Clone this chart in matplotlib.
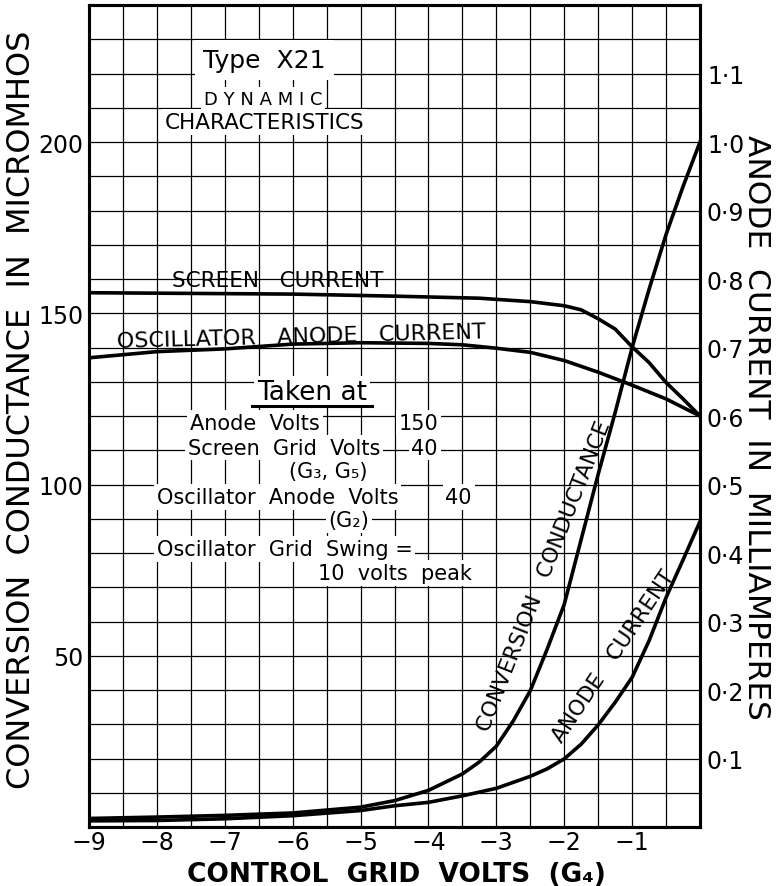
import numpy as np
import matplotlib.pyplot as plt

# ==========================================
# data
# ==========================================
# control grid volts (G4) / conversion conductance, micromhos (left axis)
cond_v = [-9, -8, -7, -6, -5, -4.5, -4, -3.5, -3.25, -3, -2.75, -2.5, -2.25, -2,
          -1.75, -1.5, -1.25, -1, -0.75, -0.5, -0.25, 0]
conv_cond = [2.5, 2.9, 3.4, 4.1, 5.8, 7.7, 10.7, 15.5, 19, 23.6, 31, 39.8, 52, 65,
             84, 103, 121, 140, 157, 173, 187, 200]

# anode current, mA (right axis)
anode_v = [-9, -8, -7, -6, -5, -4.5, -4, -3.5, -3, -2.5, -2.25, -2, -1.75, -1.5,
           -1.25, -1, -0.75, -0.5, -0.25, 0]
anode_ma = [0.009, 0.0095, 0.012, 0.0165, 0.024, 0.031, 0.036, 0.0455, 0.0565, 0.074,
            0.085, 0.0995, 0.121, 0.149, 0.182, 0.2185, 0.272, 0.335, 0.39, 0.446]

# screen current, mA
screen_v = [-9, -6, -4.5, -3.25, -2.5, -2, -1.75, -1.5, -1.25, -1, -0.75, -0.5, -0.25, 0]
screen_ma = [0.78, 0.778, 0.775, 0.772, 0.767, 0.761, 0.755, 0.742, 0.727, 0.701,
             0.678, 0.649, 0.625, 0.60]

# oscillator anode current, mA
osc_v = [-9, -8, -7, -6, -5, -4, -3.5, -3, -2.5, -2, -1.5, -1, -0.5, 0]
osc_ma = [0.685, 0.694, 0.698, 0.705, 0.707, 0.706, 0.704, 0.699, 0.693, 0.681,
          0.664, 0.645, 0.625, 0.60]

x_ticks = [-9, -8, -7, -6, -5, -4, -3, -2, -1]
x_labels = ['\u22129', '\u22128', '\u22127', '\u22126', '\u22125', '\u22124', '\u22123', '\u22122', '\u22121']
left_ticks = [50, 100, 150, 200]
right_ticks = [0.1, 0.2, 0.3, 0.4, 0.5, 0.6, 0.7, 0.8, 0.9, 1.0, 1.1]
right_labels = ['0\u00b71', '0\u00b72', '0\u00b73', '0\u00b74', '0\u00b75', '0\u00b76',
                '0\u00b77', '0\u00b78', '0\u00b79', '1\u00b70', '1\u00b71']

plt.rcParams['font.family'] = ['DejaVu Sans']

fig = plt.figure(figsize=(7.83, 8.87), dpi=100)
ax = fig.add_axes([0.1137, 0.0665, 0.7803, 0.9267])
ax.set_xlim(-9, 0)
ax.set_ylim(0, 240)

# grid paper
for gx in np.arange(-8.5, 0, 0.5):
    ax.axvline(gx, color='black', lw=0.9, zorder=1)
for gy in np.arange(10, 240, 10):
    ax.axhline(gy, color='black', lw=0.9, zorder=1)
for s in ax.spines.values():
    s.set_linewidth(2.2)

ax.set_xticks(x_ticks)
ax.set_xticklabels(x_labels, fontsize=17)
ax.set_yticks(left_ticks)
ax.set_yticklabels([str(t) for t in left_ticks], fontsize=17)
ax.tick_params(length=0, pad=4)
ax.tick_params(axis='x', pad=2)

ax2 = ax.twinx()
ax2.set_ylim(0, 1.2)
ax2.set_yticks(right_ticks)
ax2.set_yticklabels(right_labels, fontsize=17)
ax2.tick_params(length=0, pad=5)
for s in ax2.spines.values():
    s.set_linewidth(2.2)

# curves
ax.plot(cond_v, conv_cond, color='black', lw=2.6, zorder=5, solid_joinstyle='round')
ax2.plot(anode_v, anode_ma, color='black', lw=2.6, zorder=5, solid_joinstyle='round')
ax2.plot(screen_v, screen_ma, color='black', lw=2.6, zorder=5, solid_joinstyle='round')
ax2.plot(osc_v, osc_ma, color='black', lw=2.6, zorder=5, solid_joinstyle='round')

# annotations (white patches where the grid is blanked out)
wb = dict(facecolor='white', edgecolor='none', pad=2)
ax2.text(-6.42, 224, 'Type  X21', transform=ax.transData, fontsize=18,
         ha='center', va='center', bbox=dict(facecolor='white', edgecolor='none', pad=6), zorder=6)
ax2.text(-6.44, 212.6, 'D Y N A M I C', transform=ax.transData, fontsize=13,
         ha='center', va='center', bbox=wb, zorder=6)
ax2.text(-6.41, 205.8, 'CHARACTERISTICS', transform=ax.transData, fontsize=15.5,
         ha='center', va='center', bbox=wb, zorder=6)

ax2.text(-6.22, 159.7, 'SCREEN   CURRENT', transform=ax.transData, fontsize=15.5,
         ha='center', va='center', zorder=6)
ax2.text(-5.88, 143.3, 'OSCILLATOR   ANODE   CURRENT', transform=ax.transData, fontsize=16,
         ha='center', va='center', rotation=1.5, zorder=6)

ax2.text(-5.72, 127, 'Taken at', transform=ax.transData, fontsize=19,
         ha='center', va='center', bbox=wb, zorder=6)
ax2.plot([-6.6, -4.83], [122.8, 122.8], transform=ax.transData,
         color='black', lw=2.2, zorder=7)

fs = 15
lines = [
    (-7.51, 118, 'Anode  Volts', 'left'),
    (-3.86, 118, '150', 'right'),
    (-7.54, 110.8, 'Screen  Grid  Volts', 'left'),
    (-3.86, 110.8, '40', 'right'),
    (-5.47, 103.9, '(G\u2083, G\u2085)', 'center'),
    (-8.0, 96.3, 'Oscillator  Anode  Volts', 'left'),
    (-3.36, 96.3, '40', 'right'),
    (-5.17, 89.6, '(G\u2082)', 'center'),
    (-8.0, 81.2, 'Oscillator  Grid  Swing =', 'left'),
    (-3.36, 74.2, '10  volts  peak', 'right'),
]
for lx, ly, txt, ha in lines:
    ax2.text(lx, ly, txt, transform=ax.transData, fontsize=fs, ha=ha,
             va='center', bbox=wb, zorder=6)

ax2.text(-2.3, 73.5, 'CONVERSION   CONDUCTANCE', transform=ax.transData, fontsize=15.5,
         ha='center', va='center', rotation=68.5, rotation_mode='anchor', zorder=6)
ax2.text(-1.27, 50, 'ANODE   CURRENT', transform=ax.transData, fontsize=15.5,
         ha='center', va='center', rotation=56, rotation_mode='anchor', zorder=6)

# axis titles
fig.text(22 / 783, 1 - 410 / 887, 'CONVERSION  CONDUCTANCE  IN  MICROMHOS',
         rotation=90, fontsize=23, ha='center', va='center')
fig.text(757 / 783, 1 - 427 / 887, 'ANODE  CURRENT  IN  MILLIAMPERES',
         rotation=-90, fontsize=22.5, ha='center', va='center')
fig.text(396 / 783, 1 - 875 / 887, 'CONTROL  GRID  VOLTS  (G\u2084)',
         fontsize=19, fontweight='bold', ha='center', va='center')

fig.savefig('out.png', dpi=100, facecolor='white')
